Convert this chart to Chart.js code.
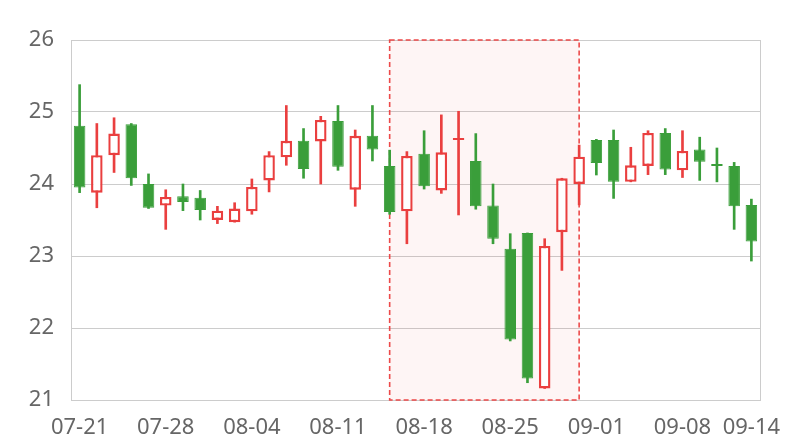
<!DOCTYPE html>
<html>
<head>
<meta charset="utf-8">
<script src="https://cdn.jsdelivr.net/npm/chart.js@4/dist/chart.umd.min.js"></script>
<style>
  html, body { margin: 0; padding: 0; background: #fff; }
</style>
</head>
<body>
<canvas id="myChart" width="800" height="440"></canvas>
<script>
// trading days shown on the x axis
var dates = [
  '07-21', '07-22', '07-23', '07-24', '07-25',
  '07-28', '07-29', '07-30', '07-31', '08-01',
  '08-04', '08-05', '08-06', '08-07', '08-08',
  '08-11', '08-12', '08-13', '08-14', '08-15',
  '08-18', '08-19', '08-20', '08-21', '08-22',
  '08-25', '08-26', '08-27', '08-28', '08-29',
  '09-01', '09-02', '09-03', '09-04', '09-05',
  '09-08', '09-09', '09-10', '09-11', '09-14'
];
var openVals = [
  24.81, 23.88, 24.40, 24.83, 24.00, 23.70, 23.83, 23.81, 23.50, 23.47,
  23.62, 24.05, 24.37, 24.60, 24.59, 24.875, 23.92, 24.67, 24.25, 23.62,
  24.42, 23.91, 24.61, 24.32, 23.70, 23.10, 23.32, 21.16, 23.33, 24.00,
  24.61, 24.61, 24.03, 24.25, 24.71, 24.19, 24.48, 24.26, 24.25, 23.71
];
var closeVals = [
  23.95, 24.40, 24.70, 24.08, 23.67, 23.82, 23.75, 23.64, 23.63, 23.66,
  23.96, 24.40, 24.60, 24.21, 24.89, 24.24, 24.67, 24.48, 23.61, 24.39,
  23.97, 24.44, 24.62, 23.69, 23.24, 21.84, 21.30, 23.14, 24.08, 24.38,
  24.29, 24.03, 24.26, 24.71, 24.20, 24.46, 24.31, 24.25, 23.69, 23.20
];
var lowVals = [
  23.88, 23.67, 24.16, 23.98, 23.66, 23.37, 23.63, 23.50, 23.45, 23.47,
  23.58, 23.89, 24.26, 24.08, 24.00, 24.19, 23.69, 24.32, 23.58, 23.17,
  23.93, 23.87, 23.57, 23.65, 23.17, 21.82, 21.24, 21.16, 22.80, 23.71,
  24.125, 23.80, 24.03, 24.13, 24.13, 24.09, 24.05, 24.03, 23.37, 22.93
];
var highVals = [
  25.38, 24.84, 24.92, 24.84, 24.14, 23.92, 24.00, 23.91, 23.69, 23.74,
  24.07, 24.45, 25.09, 24.77, 24.94, 25.09, 24.75, 25.09, 24.47, 24.45,
  24.74, 24.96, 25.01, 24.70, 24.00, 23.31, 23.32, 23.24, 24.08, 24.54,
  24.62, 24.75, 24.51, 24.74, 24.77, 24.74, 24.65, 24.50, 24.30, 23.79
];
var shownTicks = ['07-21', '07-28', '08-04', '08-11', '08-18', '08-25', '09-01', '09-08', '09-14'];
var markFrom = '08-14';
var markTo = '08-29';

var upColor = '#ea3f3f';
var downColor = '#3a9e3a';

var bodies = [];
var wicks = [];
for (var i = 0; i < dates.length; i++) {
  bodies.push([openVals[i], closeVals[i]]);
  wicks.push([lowVals[i], highVals[i]]);
}

function isUp(i) {
  return closeVals[i] >= openVals[i];
}

// shaded range with dashed border behind the candles
var markAreaPlugin = {
  id: 'markArea',
  beforeDatasetsDraw: function (chart) {
    var x = chart.scales.x, y = chart.scales.y, ctx = chart.ctx;
    var x0 = x.getPixelForValue(dates.indexOf(markFrom));
    var x1 = x.getPixelForValue(dates.indexOf(markTo));
    var y0 = y.getPixelForValue(y.max);
    var y1 = y.getPixelForValue(y.min);
    ctx.save();
    ctx.fillStyle = 'rgba(235, 64, 64, 0.05)';
    ctx.fillRect(x0, y0, x1 - x0, y1 - y0);
    ctx.strokeStyle = 'rgba(235, 64, 64, 0.95)';
    ctx.lineWidth = 1.6;
    ctx.setLineDash([5, 3]);
    ctx.strokeRect(x0, y0, x1 - x0, y1 - y0);
    ctx.restore();
  }
};

var ctx = document.getElementById('myChart');
var chart = new Chart(ctx, {
  type: 'bar',
  data: {
    labels: dates,
    datasets: [{
      label: 'body',
      data: bodies,
      grouped: false,
      order: 0,
      categoryPercentage: 1,
      barPercentage: 0.67,
      minBarLength: 2,
      borderSkipped: false,
      backgroundColor: function (c) { return isUp(c.dataIndex) ? '#ffffff' : downColor; },
      borderColor: function (c) { return isUp(c.dataIndex) ? upColor : downColor; },
      borderWidth: function (c) { return isUp(c.dataIndex) ? 2.4 : 1; }
    }, {
      label: 'wick',
      data: wicks,
      grouped: false,
      order: 1,
      barThickness: 2,
      borderWidth: 0,
      backgroundColor: function (c) { return isUp(c.dataIndex) ? upColor : downColor; }
    }]
  },
  options: {
    responsive: false,
    animation: false,
    devicePixelRatio: 1,
    layout: { padding: { top: 40, right: 40, left: 0, bottom: 0 } },
    plugins: {
      legend: { display: false },
      tooltip: { enabled: false }
    },
    scales: {
      x: {
        offset: true,
        afterFit: function (scale) { scale.height = 40; },
        grid: {
          offset: true,
          drawTicks: false,
          color: function (c) {
            if (!c.tick) return '#cccccc';
            return c.index === 0 ? '#cccccc' : 'rgba(0,0,0,0)';
          }
        },
        border: { display: true, color: '#cccccc' },
        ticks: {
          autoSkip: false,
          maxRotation: 0,
          padding: 15,
          color: '#666666',
          font: { family: 'Noto Sans', size: 22 },
          callback: function (v, idx) {
            var d = dates[idx];
            return shownTicks.indexOf(d) >= 0 ? d : '';
          }
        }
      },
      y: {
        min: 21,
        max: 26,
        afterFit: function (scale) { scale.width = 71; },
        grid: { color: '#cccccc', drawTicks: false },
        border: { display: true, color: '#cccccc' },
        ticks: {
          stepSize: 1,
          padding: 17,
          color: '#666666',
          font: { family: 'Noto Sans', size: 22 }
        }
      }
    }
  },
  plugins: [markAreaPlugin]
});
</script>
</body>
</html>
